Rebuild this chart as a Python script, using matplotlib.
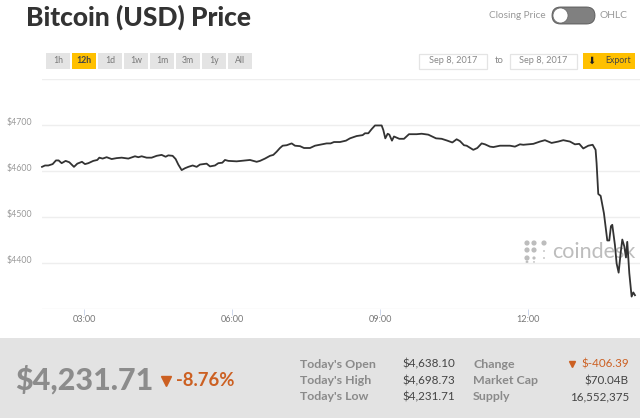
import matplotlib
matplotlib.use("Agg")
import matplotlib.pyplot as plt
from matplotlib.patches import Rectangle, FancyBboxPatch, Circle

hours = [2.149,2.21,2.277,2.365,2.432,2.486,2.547,2.628,2.703,2.797,2.865,2.959,3.02,3.088,3.189,3.27,3.311,3.378,3.459,3.561,3.662,3.764,3.899,4.034,4.101,4.169,4.27,4.372,4.473,4.574,4.655,4.709,4.797,4.858,4.912,4.98,5.047,5.115,5.203,5.284,5.351,5.486,5.554,5.655,5.723,5.804,5.858,5.926,6.095,6.365,6.5,6.568,
         6.669,6.771,6.838,6.906,6.973,7.027,7.108,7.21,7.277,7.379,7.46,7.582,7.683,7.818,7.919,8.0,8.068,8.19,8.311,8.392,8.527,8.649,8.696,8.764,8.831,8.899,9.034,9.068,9.108,9.156,9.19,9.243,9.284,9.392,9.487,9.588,9.743,9.845,9.98,10.136,10.25,10.365,10.467,10.554,10.622,10.703,10.757,10.892,10.973,11.061,11.129,11.23,11.298,11.433,11.635,11.736,11.838,
         11.905,12.108,12.243,12.344,12.479,12.614,12.716,12.851,12.952,13.04,13.121,13.223,13.311,13.371,13.391,13.425,13.473,13.54,13.608,13.648,13.682,13.709,13.763,13.797,13.838,13.878,13.912,13.953,13.986,14.013,14.054,14.101,14.135,14.169]
prices = [4609,4612,4612,4615,4623,4623,4617,4622,4619,4609,4616,4620,4615,4617,4622,4624,4629,4627,4630,4626,4628,4629,4627,4632,4630,4632,4629,4629,4633,4635,4631,4634,4633,4626,4614,4602,4606,4609,4612,4609,4614,4616,4610,4612,4617,4618,4624,4622,4621,4624,4620,4622,
          4627,4633,4635,4642,4650,4655,4656,4660,4655,4654,4650,4650,4655,4658,4660,4660,4663,4663,4666,4671,4676,4678,4682,4682,4691,4699,4699,4689,4671,4681,4679,4666,4675,4670,4670,4680,4680,4681,4679,4671,4670,4666,4662,4669,4665,4656,4655,4646,4650,4660,4658,4653,4652,4655,4655,4653,4658,
          4657,4659,4664,4667,4661,4664,4667,4664,4658,4659,4649,4655,4657,4646,4617,4550,4546,4508,4449,4449,4480,4483,4439,4399,4379,4421,4451,4436,4412,4446,4378,4327,4336,4330]
y_ticks = [4300,4400,4500,4600,4700,4800]
y_labels = ["","$4400","$4500","$4600","$4700",""]
x_ticks = [3,6,9,12]
x_labels = ["03:00","06:00","09:00","12:00"]
range_buttons = ["1h","12h","1d","1w","1m","3m","1y","All"]
stat_labels_left = ["Today's Open","Today's High","Today's Low"]
stat_values_left = ["$4,638.10","$4,698.73","$4,231.71"]
stat_labels_right = ["Change","Market Cap","Supply"]
stat_values_right = ["$-406.39","$70.04B","16,552,375"]

W,H = 640,418
plt.rcParams['font.family'] = ['Lato','DejaVu Sans']
fig = plt.figure(figsize=(W/100,H/100),dpi=100,facecolor='white')

# page furniture in pixel coordinates
ui = fig.add_axes([0,0,1,1],zorder=1)
ui.set_xlim(0,W); ui.set_ylim(H,0); ui.axis('off')

ui.text(26,17,"Bitcoin (USD) Price",fontsize=19,fontweight='black',color='#333333',va='center',ha='left')

for i,b in enumerate(range_buttons):
    x0 = 46+26*i
    active = b=="12h"
    ui.add_patch(Rectangle((x0,53),24,16,fc='#ffc000' if active else '#e4e4e4',ec='none'))
    ui.text(x0+12,60.5,b,fontsize=6.3,ha='center',va='center',color='#444444' if active else '#777777',
            fontweight='bold' if active else 'normal')

ui.text(546,15.5,"Closing Price",fontsize=7.2,color='#999999',ha='right',va='center')
ui.text(600,15.5,"OHLC",fontsize=7.4,color='#999999',ha='left',va='center')
ui.add_patch(FancyBboxPatch((552,7),43,17,boxstyle="round,pad=0,rounding_size=8.5",fc='#808080',ec='#555555',lw=0.6))
ui.add_patch(Circle((560.5,15.5),7.5,fc='white',ec='#666666',lw=0.5,zorder=3))

for x0,x1 in [(418.5,487),(509.5,577)]:
    ui.add_patch(Rectangle((x0,53.5),x1-x0,15,fc='white',ec='#e4e4e4',lw=0.9))
    ui.text((x0+x1)/2,60.5,"Sep 8, 2017",fontsize=6.6,color='#888888',ha='center',va='center')
ui.text(499,60.5,"to",fontsize=6.8,color='#888888',ha='center',va='center')
ui.add_patch(Rectangle((583,53),52,16,fc='#ffc000',ec='none'))
ui.text(591,60.5,"\u2b07",fontsize=7,family='DejaVu Sans',color='#222222',ha='center',va='center')
ui.text(605,60.5,"Export",fontsize=6.3,color='#444444',ha='left',va='center')

# watermark
dots = [(527,243,2.6),(534,243,2.6),(544,243,2.6),(527,250,2.6),(534,250,2.6),(544,251,0.9),
        (527,258,2.6),(534,258,1.6),(544,258,0.9),(527,262,1.4),(534,262,0.9)]
for dx,dy,r in dots:
    ui.add_patch(Circle((dx,dy),r,fc='#bdbdbd',ec='none'))
ui.text(552,252,"coindesk",fontsize=15.5,color='#bdbdbd',ha='left',va='center',clip_on=True)

# bottom band
ui.add_patch(Rectangle((0,338),W,H-338,fc='#e3e3e3',ec='none'))
ui.text(15,380,"$4,231.71",fontsize=22,fontweight='black',color='#8c8c8c',ha='left',va='center')
ui.plot([166],[381],marker='v',ms=7.5,color='#cc6022',ls='none')
ui.text(176,381,"-8.76%",fontsize=13.3,fontweight='bold',color='#cc6022',ha='left',va='center')
rows = [364,381,397]
for y,a,b,c,d in zip(rows,stat_labels_left,stat_values_left,stat_labels_right,stat_values_right):
    ui.text(300,y,a,fontsize=8.9,fontweight='bold',color='#8a8a8a',ha='left',va='center')
    ui.text(455,y,b,fontsize=8.4,color='#444444',ha='right',va='center')
    ui.text(473,y,c,fontsize=8.9,fontweight='bold',color='#8a8a8a',ha='left',va='center')
    ui.text(629,y,d,fontsize=8.4,color='#cc6022' if c=="Change" else '#444444',ha='right',va='center')
ui.plot([572],[364],marker='v',ms=5,color='#cc6022',ls='none')

# price chart: x from hours, y from dollars
left,right,top,bottom = 42,640,79,309
ax = fig.add_axes([left/W,1-bottom/H,(right-left)/W,(bottom-top)/H],zorder=2)
ax.patch.set_alpha(0)
ax.set_xlim(2.149,14.271)
ax.set_ylim(4300,4800)
for s in ax.spines.values(): s.set_visible(False)
ax.set_yticks(y_ticks); ax.set_yticklabels(y_labels,fontsize=6.3,color='#999999',ha='left',va='baseline')
ax.tick_params(axis='y',length=0,pad=25.2)
ax.set_xticks(x_ticks); ax.set_xticklabels(x_labels,fontsize=6.6,color='#777777')
ax.tick_params(axis='x',length=4,width=0.7,color='#ccd6eb',pad=0.5)
ax.grid(axis='y',color='#eeeeee',lw=1.0)
ax.set_axisbelow(True)
ax.plot(hours,prices,color='#333333',lw=1.3,solid_joinstyle='round',clip_on=False)

fig.savefig("out.png",dpi=100)
